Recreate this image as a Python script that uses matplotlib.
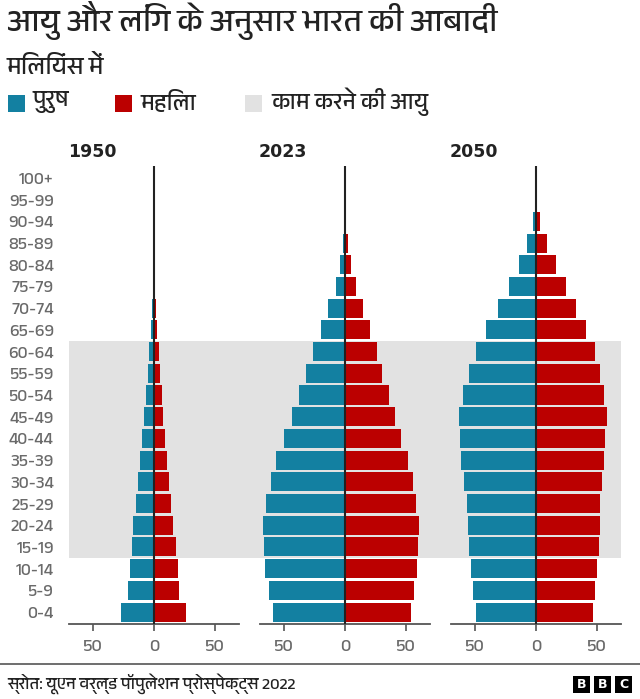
import matplotlib
matplotlib.use('Agg')

import matplotlib.pyplot as plt
from matplotlib import font_manager
from matplotlib.patches import Rectangle

# --- data (millions) ---
ages = ["0-4", "5-9", "10-14", "15-19", "20-24", "25-29", "30-34", "35-39",
        "40-44", "45-49", "50-54", "55-59", "60-64", "65-69", "70-74", "75-79",
        "80-84", "85-89", "90-94", "95-99", "100+"]
years = ["1950", "2023", "2050"]

male_1950   = [27.3, 21.5, 20.0, 18.2, 16.9, 14.9, 13.2, 11.6, 9.9, 8.0, 6.6,
               4.8, 3.9, 2.3, 1.6, 0.8, 0.3, 0.1, 0.03, 0.01, 0.0]
female_1950 = [26.4, 20.9, 19.6, 17.9, 15.7, 13.7, 12.1, 10.4, 9.1, 7.4, 6.3,
               4.6, 4.3, 2.2, 1.6, 0.8, 0.3, 0.1, 0.03, 0.01, 0.0]
male_2023   = [59.2, 62.5, 65.8, 66.9, 67.5, 64.7, 60.9, 56.5, 50.1, 43.8, 38.0,
               32.2, 26.2, 20.1, 14.0, 7.4, 3.9, 1.9, 0.5, 0.1, 0.0]
female_2023 = [54.0, 56.5, 59.0, 60.1, 60.6, 58.1, 55.6, 52.1, 46.3, 41.0, 36.1,
               30.6, 26.2, 20.7, 14.9, 8.8, 5.0, 2.5, 1.1, 0.3, 0.0]
male_2050   = [49.6, 51.5, 53.7, 55.4, 56.2, 56.7, 59.0, 61.4, 62.5, 63.6, 60.3,
               55.4, 49.3, 41.3, 31.7, 22.6, 14.0, 7.2, 2.8, 0.4, 0.05]
female_2050 = [46.8, 48.8, 50.4, 52.1, 52.6, 52.3, 54.0, 55.9, 57.0, 58.1, 55.6,
               52.3, 48.2, 41.3, 33.1, 25.1, 16.5, 9.1, 3.6, 0.8, 0.1]

males   = [male_1950, male_2023, male_2050]
females = [female_1950, female_2023, female_2050]

# working age band: 15-19 .. 60-64
work_start, work_end = "15-19", "60-64"

title    = "आयु और लिंग के अनुसार भारत की आबादी"
subtitle = "मिलियंस में"
legend_labels = ["पुरुष", "महिला", "काम करने की आयु"]
source   = "स्रोत: यूएन वर्ल्ड पॉपुलेशन प्रोस्पेक्ट्स 2022"

BLUE = "#1380A1"
RED  = "#BB0000"
GREY_BAND = "#E2E2E2"
TXT  = "#222222"
MUTED = "#6A6A6A"

# --- fonts: pick a Devanagari face if one is installed ---
deva = [f.name for f in font_manager.fontManager.ttflist
        if any(k in f.name for k in ("Devanagari", "Lohit", "Mukta", "Hind", "Mangal"))]
families = ([deva[0]] if deva else []) + ["DejaVu Sans"]
plt.rcParams['font.family'] = families

W, H = 640, 699
fig = plt.figure(figsize=(W / 100, H / 100), dpi=100)

def fx(px): return px / W
def fy(py): return 1 - py / H

ax_left = [69, 260, 451]
ax_w = 170
ax_top, ax_bot = 166, 624
axes = []
rows = list(range(len(ages)))
for i, yr in enumerate(years):
    ax = fig.add_axes([fx(ax_left[i]), fy(ax_bot), ax_w / W, (ax_bot - ax_top) / H])
    ax.patch.set_alpha(0)
    ax.barh(rows, [-v for v in males[i]], height=0.88, color=BLUE, zorder=2)
    ax.barh(rows, females[i], height=0.88, color=RED, zorder=2)
    ax.axvline(0, color=TXT, lw=1.5, zorder=3)
    ax.set_xlim(-70, 70)
    ax.set_ylim(-0.55, len(ages) - 0.45)
    for s in ("top", "left", "right"):
        ax.spines[s].set_visible(False)
    ax.spines["bottom"].set_color("#555555")
    ax.spines["bottom"].set_linewidth(1.3)
    ax.set_xticks([-50, 0, 50])
    ax.set_xticklabels(["50", "0", "50"])
    ax.tick_params(axis="x", length=5, width=1.2, color="#555555",
                   labelcolor=MUTED, labelsize=13, pad=6)
    if i == 0:
        ax.set_yticks(rows)
        ax.set_yticklabels(ages)
        ax.tick_params(axis="y", length=0, pad=11, labelcolor=MUTED, labelsize=12.5)
    else:
        ax.set_yticks([])
    fig.text(fx(ax_left[i] - 1), fy(152), yr, fontsize=12.5, fontweight="bold",
             color=TXT, ha="left", va="center", family="DejaVu Sans")
    axes.append(ax)

# working-age grey band spanning all three panels
inv = fig.transFigure.inverted()
y0 = inv.transform(axes[0].transData.transform((0, ages.index(work_start) - 0.5)))[1]
y1 = inv.transform(axes[0].transData.transform((0, ages.index(work_end) + 0.5)))[1]
x0 = axes[0].get_position().x0
x1 = axes[-1].get_position().x1
fig.patches.append(Rectangle((x0, y0), x1 - x0, y1 - y0, transform=fig.transFigure,
                             facecolor=GREY_BAND, edgecolor="none", zorder=-1))

# titles
fig.text(fx(7), fy(20), title, fontsize=23, fontweight="bold", color=TXT,
         ha="left", va="center")
fig.text(fx(7), fy(67), subtitle, fontsize=17.5, color=TXT, ha="left", va="center")

# legend
leg_x = [8, 115, 245]
leg_c = [BLUE, RED, GREY_BAND]
leg_t = [32, 141, 271]
for lx, c, tx, lab in zip(leg_x, leg_c, leg_t, legend_labels):
    fig.patches.append(Rectangle((fx(lx), fy(112)), 17 / W, 17 / H, transform=fig.transFigure,
                                 facecolor=c, edgecolor="none"))
    fig.text(fx(tx), fy(102), lab, fontsize=16.5, color=TXT, ha="left", va="center")

# footer
fig.add_artist(plt.Line2D([0, 1], [fy(664), fy(664)], color="#555555", lw=1.2))
fig.text(fx(7), fy(684), source, fontsize=12, color=TXT, ha="left", va="center")
for k, ch in enumerate("BBC"):
    bx = 573 + k * 21
    fig.patches.append(Rectangle((fx(bx), fy(693)), 17 / W, 17 / H, transform=fig.transFigure,
                                 facecolor="black", edgecolor="none"))
    fig.text(fx(bx + 8.5), fy(684.5), ch, fontsize=9, fontweight="bold", color="white",
             ha="center", va="center", family="DejaVu Sans")

plt.savefig("out.png", dpi=100)
plt.close("all")
